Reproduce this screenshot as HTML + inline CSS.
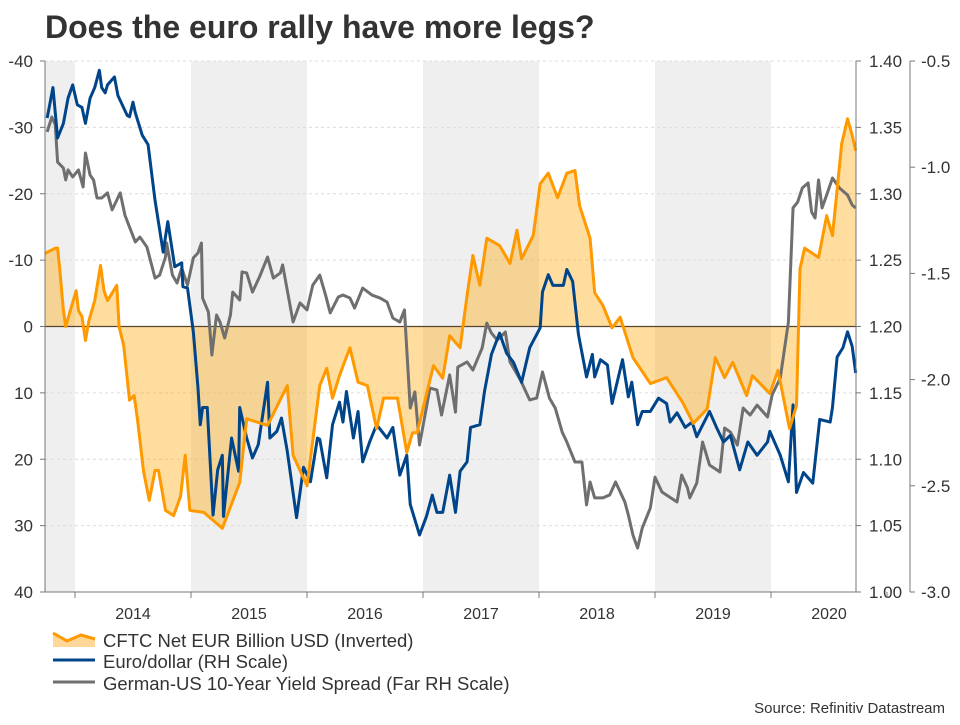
<!DOCTYPE html>
<html><head><meta charset="utf-8"><style>
body{margin:0;background:#fff;width:960px;height:720px;overflow:hidden;font-family:"Liberation Sans",Arial,sans-serif}
svg text{font-family:"Liberation Sans",Arial,sans-serif}
</style></head><body>
<svg id="chart" width="960" height="720" xmlns="http://www.w3.org/2000/svg">
<text x="45" y="38" font-size="32" font-weight="bold" fill="#333">Does the euro rally have more legs?</text>
<g id="plot"></g>
<text x="945" y="713" font-size="15" fill="#333" text-anchor="end">Source: Refinitiv Datastream</text>
</svg>
<script>
const yearLabels=[2014,2015,2016,2017,2018,2019,2020];
const shadedYears=[2013,2015,2017,2019];
const leftTicks=[-40,-30,-20,-10,0,10,20,30,40];
const rightTicks=[1.40,1.35,1.30,1.25,1.20,1.15,1.10,1.05,1.00];
const farTicks=[-0.5,-1.0,-1.5,-2.0,-2.5,-3.0];
const cftcDates=[2013.74,2013.83,2013.85,2013.87,2013.90,2013.92,2013.96,2014.01,2014.03,2014.06,2014.09,2014.12,2014.17,2014.22,2014.25,2014.28,2014.36,2014.38,2014.42,2014.47,2014.51,2014.54,2014.59,2014.64,2014.69,2014.72,2014.78,2014.85,2014.91,2014.95,2014.99,2015.11,2015.27,2015.42,2015.48,2015.66,2015.83,2015.88,2016.00,2016.11,2016.17,2016.22,2016.28,2016.37,2016.44,2016.52,2016.60,2016.66,2016.78,2016.86,2016.91,2016.95,2017.09,2017.17,2017.23,2017.32,2017.38,2017.43,2017.49,2017.55,2017.66,2017.75,2017.81,2017.85,2017.95,2018.01,2018.08,2018.16,2018.24,2018.31,2018.35,2018.44,2018.48,2018.55,2018.63,2018.70,2018.81,2018.96,2019.10,2019.24,2019.33,2019.45,2019.52,2019.60,2019.67,2019.79,2019.84,2019.99,2020.06,2020.16,2020.22,2020.25,2020.29,2020.41,2020.48,2020.53,2020.61,2020.66,2020.70,2020.73];
const cftcValues=[-11.0,-11.8,-11.8,-8.4,-2.4,0,-2.4,-5.4,-2.4,-1.5,2.1,-0.9,-3.9,-9.2,-5.4,-3.9,-6.2,0,2.9,11.1,10.4,14.2,21.7,26.2,21.7,21.7,27.7,28.5,25.6,19.4,27.7,28.0,30.4,23.5,13.9,14.9,8.9,19.4,24.0,8.9,6.3,10.8,7.4,3.2,8.4,8.9,15.4,10.8,10.8,19.0,16.0,16.0,5.9,7.8,1.4,3.2,-4.7,-10.7,-6.2,-13.3,-12.2,-9.5,-14.5,-10.2,-13.7,-21.5,-23.1,-19.4,-23.1,-23.5,-18.2,-13.3,-5.1,-3.2,0.2,-1.4,4.7,8.6,7.7,11.5,14.6,12.4,4.7,7.7,5.4,10.4,7.4,10.1,6.6,15.4,11.9,-8.7,-11.8,-10.4,-16.7,-13.7,-27.6,-31.3,-28.8,-26.5];
const eurDates=[2013.76,2013.81,2013.85,2013.90,2013.94,2013.98,2014.02,2014.06,2014.09,2014.13,2014.17,2014.21,2014.23,2014.26,2014.28,2014.34,2014.37,2014.45,2014.47,2014.50,2014.52,2014.58,2014.63,2014.69,2014.76,2014.80,2014.86,2014.92,2014.93,2014.97,2015.02,2015.06,2015.08,2015.10,2015.14,2015.19,2015.23,2015.27,2015.28,2015.35,2015.41,2015.42,2015.48,2015.53,2015.58,2015.66,2015.68,2015.74,2015.78,2015.83,2015.91,2015.97,2016.03,2016.09,2016.11,2016.17,2016.22,2016.28,2016.31,2016.34,2016.40,2016.44,2016.48,2016.54,2016.60,2016.69,2016.74,2016.80,2016.86,2016.89,2016.97,2017.03,2017.08,2017.12,2017.17,2017.23,2017.28,2017.32,2017.38,2017.41,2017.49,2017.53,2017.59,2017.66,2017.72,2017.78,2017.85,2017.92,2018.01,2018.03,2018.08,2018.12,2018.21,2018.24,2018.29,2018.34,2018.41,2018.46,2018.48,2018.53,2018.59,2018.63,2018.72,2018.77,2018.80,2018.85,2018.89,2018.96,2019.03,2019.10,2019.13,2019.19,2019.26,2019.32,2019.36,2019.47,2019.53,2019.59,2019.65,2019.73,2019.80,2019.88,2019.97,2019.99,2020.08,2020.15,2020.19,2020.22,2020.28,2020.36,2020.42,2020.51,2020.53,2020.57,2020.62,2020.66,2020.70,2020.73];
const eurValues=[1.357,1.380,1.342,1.353,1.372,1.382,1.367,1.365,1.353,1.372,1.380,1.393,1.380,1.376,1.382,1.388,1.374,1.359,1.358,1.369,1.361,1.344,1.337,1.295,1.256,1.279,1.245,1.248,1.230,1.229,1.196,1.154,1.126,1.139,1.139,1.058,1.092,1.103,1.057,1.116,1.091,1.139,1.116,1.101,1.111,1.158,1.116,1.121,1.131,1.106,1.056,1.094,1.083,1.116,1.115,1.086,1.126,1.143,1.128,1.151,1.116,1.136,1.098,1.113,1.126,1.116,1.124,1.088,1.103,1.066,1.043,1.057,1.073,1.060,1.060,1.088,1.060,1.091,1.098,1.124,1.126,1.151,1.179,1.195,1.180,1.173,1.158,1.184,1.199,1.226,1.239,1.231,1.231,1.243,1.234,1.194,1.162,1.179,1.162,1.175,1.171,1.142,1.175,1.147,1.158,1.126,1.136,1.136,1.146,1.142,1.128,1.135,1.124,1.128,1.117,1.136,1.124,1.113,1.118,1.092,1.113,1.103,1.113,1.121,1.103,1.083,1.141,1.075,1.090,1.082,1.130,1.128,1.139,1.177,1.184,1.196,1.185,1.165];
const spreadDates=[2013.76,2013.80,2013.83,2013.85,2013.90,2013.92,2013.94,2013.98,2014.03,2014.07,2014.09,2014.13,2014.16,2014.19,2014.23,2014.28,2014.32,2014.39,2014.43,2014.47,2014.52,2014.56,2014.62,2014.69,2014.73,2014.78,2014.79,2014.84,2014.88,2014.92,2014.97,2015.02,2015.06,2015.09,2015.10,2015.15,2015.18,2015.22,2015.25,2015.29,2015.34,2015.36,2015.42,2015.44,2015.48,2015.53,2015.59,2015.66,2015.71,2015.77,2015.79,2015.88,2015.94,2016.00,2016.05,2016.11,2016.16,2016.20,2016.27,2016.31,2016.37,2016.41,2016.48,2016.56,2016.63,2016.69,2016.74,2016.80,2016.84,2016.89,2016.93,2016.97,2017.06,2017.12,2017.16,2017.23,2017.28,2017.30,2017.38,2017.43,2017.51,2017.55,2017.59,2017.64,2017.71,2017.75,2017.84,2017.92,2017.98,2018.03,2018.09,2018.14,2018.20,2018.24,2018.31,2018.37,2018.41,2018.44,2018.48,2018.55,2018.61,2018.66,2018.74,2018.77,2018.81,2018.85,2018.89,2018.96,2019.00,2019.06,2019.19,2019.23,2019.28,2019.30,2019.36,2019.41,2019.47,2019.56,2019.60,2019.65,2019.71,2019.76,2019.82,2019.88,2019.97,2020.01,2020.08,2020.15,2020.19,2020.23,2020.27,2020.32,2020.35,2020.38,2020.41,2020.44,2020.48,2020.53,2020.59,2020.66,2020.70,2020.73];
const spreadValues=[-0.834,-0.764,-0.801,-0.976,-1.004,-1.060,-1.013,-1.046,-1.013,-1.093,-0.933,-1.037,-1.060,-1.145,-1.145,-1.121,-1.201,-1.121,-1.225,-1.282,-1.352,-1.329,-1.376,-1.522,-1.508,-1.423,-1.357,-1.508,-1.545,-1.475,-1.555,-1.427,-1.404,-1.357,-1.616,-1.682,-1.884,-1.696,-1.729,-1.804,-1.696,-1.588,-1.625,-1.493,-1.498,-1.588,-1.517,-1.423,-1.522,-1.498,-1.460,-1.729,-1.639,-1.672,-1.555,-1.508,-1.602,-1.686,-1.611,-1.602,-1.616,-1.663,-1.569,-1.602,-1.616,-1.635,-1.710,-1.729,-1.672,-2.134,-2.058,-2.308,-2.040,-2.049,-2.167,-1.978,-2.153,-1.941,-1.917,-1.955,-1.851,-1.734,-1.781,-1.814,-1.776,-1.917,-2.002,-2.096,-2.087,-1.964,-2.087,-2.134,-2.247,-2.294,-2.388,-2.388,-2.590,-2.482,-2.557,-2.557,-2.543,-2.482,-2.576,-2.637,-2.732,-2.793,-2.699,-2.604,-2.459,-2.529,-2.576,-2.449,-2.510,-2.557,-2.487,-2.294,-2.402,-2.435,-2.228,-2.247,-2.308,-2.134,-2.167,-2.120,-2.176,-2.072,-1.992,-1.729,-1.192,-1.164,-1.098,-1.074,-1.211,-1.239,-1.060,-1.192,-1.131,-1.051,-1.098,-1.131,-1.178,-1.192];

const NS='http://www.w3.org/2000/svg';
const X0=45,X1=856,Y0=61,Y1=592;
const xS=t=>75+(t-2014)*116;
const yL=v=>Y0+(v+40)/80*(Y1-Y0);
const yR=v=>Y0+(1.40-v)/0.40*(Y1-Y0);
const yF=v=>Y0+(-0.5-v)/2.5*(Y1-Y0);
const plot=document.getElementById('plot');
function mk(tag,attrs,parent){const e=document.createElementNS(NS,tag);for(const k in attrs)e.setAttribute(k,attrs[k]);(parent||plot).appendChild(e);return e;}

shadedYears.forEach(y=>{
  const a=Math.max(X0,xS(y)),b=Math.min(X1,xS(y+1));
  const r=mk('rect',{x:a,y:Y0,width:b-a,height:Y1-Y0,fill:'#efefef'});
  
  
});
leftTicks.forEach(v=>{
  const y=yL(v);
  if(v!==0&&v!==40){const g=mk('line',{x1:X0,x2:X1,y1:y,y2:y,stroke:'#dcdcdc','stroke-dasharray':'3,3'});
  
  }
  mk('line',{x1:40,x2:X0,y1:y,y2:y,stroke:'#777'});
  const t=mk('text',{x:33,y:y+6,'font-size':17,fill:'#333','text-anchor':'end'});t.textContent=v;
  
  
});
rightTicks.forEach(v=>{
  const y=yR(v);
  mk('line',{x1:X1,x2:X1+5,y1:y,y2:y,stroke:'#777'});
  const t=mk('text',{x:869,y:y+6,'font-size':17,fill:'#333'});t.textContent=v.toFixed(2);
  
  
});
farTicks.forEach(v=>{
  const y=yF(v);
  mk('line',{x1:910,x2:915,y1:y,y2:y,stroke:'#777'});
  const t=mk('text',{x:921,y:y+6,'font-size':17,fill:'#333'});t.textContent=v.toFixed(1);
  
  
});
yearLabels.forEach(y=>{
  mk('line',{x1:xS(y),x2:xS(y),y1:Y1,y2:Y1+6,stroke:'#777'});
  const t=mk('text',{x:xS(y+0.5),y:619,'font-size':16,fill:'#333','text-anchor':'middle'});t.textContent=y;
  
  
});
mk('line',{x1:xS(2021),x2:xS(2021),y1:Y1,y2:Y1+6,stroke:'#777'});

let d='M'+xS(cftcDates[0])+','+yL(0);
cftcDates.forEach((t,i)=>{d+=' L'+xS(t)+','+yL(cftcValues[i]);});
d+=' L'+xS(cftcDates[cftcDates.length-1])+','+yL(0)+' Z';
const fill=mk('path',{d:d,fill:'#ffa500','fill-opacity':0.38,stroke:'none'});



const zl=mk('line',{x1:X0,x2:X1,y1:yL(0),y2:yL(0),stroke:'#5a4630','stroke-width':1.3});



function line(dates,vals,sc,color,name){
  const p=mk('polyline',{points:dates.map((t,i)=>xS(t)+','+sc(vals[i])).join(' '),fill:'none',stroke:color,'stroke-width':3,'stroke-linejoin':'round'});
  
  
}
line(spreadDates,spreadValues,yF,'#6f6f6f','yield-spread-line');
line(eurDates,eurValues,yR,'#004489','eurusd-line');
line(cftcDates,cftcValues,yL,'#ff9900','cftc-line');

mk('line',{x1:X0,x2:X0,y1:Y0,y2:Y1,stroke:'#777'});
mk('line',{x1:40,x2:X1,y1:Y1,y2:Y1,stroke:'#777'});
mk('line',{x1:X1,x2:X1,y1:Y0,y2:Y1,stroke:'#777'});
mk('line',{x1:910,x2:910,y1:Y0,y2:Y1,stroke:'#777'});

const lg=mk('g',{});


mk('path',{d:'M53,633 L67,641 L81,635 L95,639 L95,647 L53,647 Z',fill:'#ffd799'},lg);
mk('polyline',{points:'53,633 67,641 81,635 95,639',fill:'none',stroke:'#ff9900','stroke-width':3},lg);
mk('line',{x1:53,x2:95,y1:660,y2:660,stroke:'#004489','stroke-width':3},lg);
mk('line',{x1:53,x2:95,y1:682,y2:682,stroke:'#6f6f6f','stroke-width':3},lg);
[['CFTC Net EUR Billion USD (Inverted)',647,'legend-entry-cftc'],['Euro/dollar (RH Scale)',668,'legend-entry-eurusd'],['German-US 10-Year Yield Spread (Far RH Scale)',690,'legend-entry-spread']].forEach(a=>{
  const t=mk('text',{x:103,y:a[1],'font-size':18.5,fill:'#333'},lg);t.textContent=a[0];
  
  
});
</script>
</body></html>
